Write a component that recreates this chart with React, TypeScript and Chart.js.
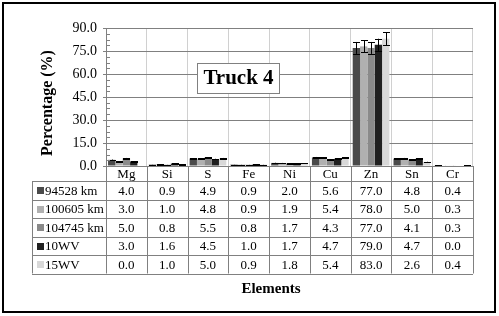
import React, { useEffect, useRef } from "react";
import { Chart, registerables } from "chart.js";
Chart.register(...registerables);

const categories = ["Mg", "Si", "S", "Fe", "Ni", "Cu", "Zn", "Sn", "Cr"];
const seriesNames = ["94528 km", "100605 km", "104745 km", "10WV", "15WV"];
const s94528 = [4.0, 0.9, 4.9, 0.9, 2.0, 5.6, 77.0, 4.8, 0.4];
const s100605 = [3.0, 1.0, 4.8, 0.9, 1.9, 5.4, 78.0, 5.0, 0.3];
const s104745 = [5.0, 0.8, 5.5, 0.8, 1.7, 4.3, 77.0, 4.1, 0.3];
const s10WV = [3.0, 1.6, 4.5, 1.0, 1.7, 4.7, 79.0, 4.7, 0.0];
const s15WV = [0.0, 1.0, 5.0, 0.9, 1.8, 5.4, 83.0, 2.6, 0.4];
const e94528 = [0.2, 0.05, 0.25, 0.05, 0.1, 0.3, 3.9, 0.25, 0.02];
const e100605 = [0.15, 0.05, 0.25, 0.05, 0.1, 0.3, 3.9, 0.25, 0.02];
const e104745 = [0.25, 0.04, 0.3, 0.04, 0.1, 0.2, 3.9, 0.2, 0.02];
const e10WV = [0.15, 0.08, 0.2, 0.05, 0.1, 0.25, 4.0, 0.25, 0.0];
const e15WV = [0.0, 0.05, 0.25, 0.05, 0.1, 0.3, 4.2, 0.15, 0.02];
const yTicks = [0, 15, 30, 45, 60, 75, 90];

const seriesValues = [s94528, s100605, s104745, s10WV, s15WV];
const seriesErrors = [e94528, e100605, e104745, e10WV, e15WV];
const seriesColors = ["#4a4a4a", "#b0b0b0", "#8a8a8a", "#202020", "#d8d8d8"];

const SERIF = "'Liberation Serif', 'Times New Roman', serif";

const decorPlugin = {
  id: "decor",
  afterDatasetsDraw(chart: any) {
    const ctx = chart.ctx;
    ctx.save();
    ctx.strokeStyle = "#000";
    ctx.lineWidth = 1;
    chart.data.datasets.forEach((ds: any, di: number) => {
      const meta = chart.getDatasetMeta(di);
      const errs = seriesErrors[di];
      meta.data.forEach((bar: any, i: number) => {
        const v = ds.data[i];
        const e = errs[i];
        if (!v) return;
        const yT = chart.scales.y.getPixelForValue(v + e);
        const yB = chart.scales.y.getPixelForValue(v - e);
        const x = Math.round(bar.x) + 0.5;
        const hw = 3.5;
        ctx.beginPath();
        ctx.moveTo(x, yT);
        ctx.lineTo(x, yB);
        ctx.moveTo(x - hw, Math.round(yT) + 0.5);
        ctx.lineTo(x + hw, Math.round(yT) + 0.5);
        ctx.moveTo(x - hw, Math.round(yB) + 0.5);
        ctx.lineTo(x + hw, Math.round(yB) + 0.5);
        ctx.stroke();
      });
    });
    ctx.restore();
  },
  afterDraw(chart: any) {
    const ctx = chart.ctx;
    const ca = chart.chartArea;
    const ys = chart.scales.y;
    ctx.save();
    // minor ticks
    ctx.strokeStyle = "#808080";
    ctx.lineWidth = 1;
    for (let v = 0; v <= 90.001; v += 3.75) {
      const y = Math.round(ys.getPixelForValue(v)) + 0.5;
      ctx.beginPath();
      ctx.moveTo(ca.left, y);
      ctx.lineTo(ca.left + 4, y);
      ctx.stroke();
    }
    // table
    const n = categories.length;
    const cw = (ca.right - ca.left) / n;
    const headTop = ca.bottom;
    const headBot = 181;
    const rowH = 18.5;
    const legLeft = 32;
    const tableBot = headBot + rowH * seriesNames.length;
    ctx.strokeStyle = "#808080";
    ctx.beginPath();
    const hy = (y: number) => Math.round(y) + 0.5;
    ctx.moveTo(ca.left, hy(headTop));
    ctx.lineTo(ca.right, hy(headTop));
    for (let r = 0; r <= seriesNames.length; r++) {
      const y = hy(headBot + r * rowH);
      ctx.moveTo(legLeft, y);
      ctx.lineTo(ca.right, y);
    }
    for (let c = 0; c <= n; c++) {
      const x = hy(ca.left + c * cw);
      ctx.moveTo(x, headTop);
      ctx.lineTo(x, tableBot);
    }
    ctx.moveTo(legLeft + 0.5, headBot);
    ctx.lineTo(legLeft + 0.5, tableBot);
    ctx.stroke();

    ctx.fillStyle = "#000";
    ctx.textBaseline = "middle";
    ctx.textAlign = "center";
    ctx.font = `13px ${SERIF}`;
    categories.forEach((c, i) => {
      ctx.fillText(c, ca.left + (i + 0.5) * cw, (headTop + headBot) / 2 + 1);
    });
    seriesNames.forEach((name, r) => {
      const cy = headBot + (r + 0.5) * rowH + 1;
      ctx.fillStyle = seriesColors[r];
      ctx.fillRect(37, Math.round(cy - 4), 7, 7);
      ctx.fillStyle = "#000";
      ctx.textAlign = "left";
      ctx.font = `13px ${SERIF}`;
      ctx.fillText(name, 45, cy);
      ctx.textAlign = "center";
      ctx.font = `13px ${SERIF}`;
      seriesValues[r].forEach((v, i) => {
        ctx.fillText(v.toFixed(1), ca.left + (i + 0.5) * cw, cy);
      });
    });

    // axis titles
    ctx.font = `bold 15px ${SERIF}`;
    ctx.textAlign = "center";
    ctx.fillText("Elements", 271, 289);
    ctx.save();
    ctx.translate(48, 103);
    ctx.rotate(-Math.PI / 2);
    ctx.font = `bold 16px ${SERIF}`;
    ctx.fillText("Percentage (%)", 0, 0);
    ctx.restore();

    // title box
    ctx.fillStyle = "#fff";
    ctx.fillRect(197, 63, 83, 30);
    ctx.strokeStyle = "#808080";
    ctx.strokeRect(197.5, 63.5, 82, 30);
    ctx.fillStyle = "#000";
    ctx.font = `bold 21px ${SERIF}`;
    ctx.fillText("Truck 4", 238.5, 79);

    // outer border
    ctx.strokeStyle = "#000";
    ctx.lineWidth = 2;
    ctx.strokeRect(3, 3, 492, 309);
    ctx.restore();
  },
};

export default function App() {
  const ref = useRef<HTMLCanvasElement | null>(null);
  useEffect(() => {
    document.body.style.margin = "0";
    const canvas = ref.current!;
    const chart = new Chart(canvas, {
      type: "bar",
      data: {
        labels: categories,
        datasets: seriesNames.map((name, i) => ({
          label: name,
          data: seriesValues[i],
          backgroundColor: seriesColors[i],
          borderWidth: 0,
          categoryPercentage: 0.9,
          barPercentage: 1.0,
        })),
      },
      options: {
        animation: false,
        responsive: false,
        maintainAspectRatio: false,
        layout: { padding: { left: 0, right: 26, top: 28, bottom: 0 } },
        plugins: { legend: { display: false }, tooltip: { enabled: false } },
        scales: {
          x: {
            grid: { color: "#d0d0d0", drawTicks: false, offset: true },
            border: { display: false },
            ticks: { display: false },
            afterFit: (s: any) => {
              s.height = 150;
            },
          },
          y: {
            min: 0,
            max: 90,
            afterBuildTicks: (s: any) => {
              s.ticks = yTicks.map((v) => ({ value: v }));
            },
            ticks: {
              callback: (v: any) => Number(v).toFixed(1),
              font: { family: SERIF, size: 14 },
              color: "#000",
              padding: 6,
            },
            grid: { color: "#808080", tickLength: 3, tickColor: "#808080" },
            border: { color: "#808080" },
            afterFit: (s: any) => {
              s.width = 106;
            },
          },
        },
      },
      plugins: [decorPlugin],
    });
    return () => chart.destroy();
  }, []);
  return (
    <canvas
      ref={ref}
      width={499}
      height={316}
      style={{ display: "block", width: 499, height: 316 }}
    />
  );
}
